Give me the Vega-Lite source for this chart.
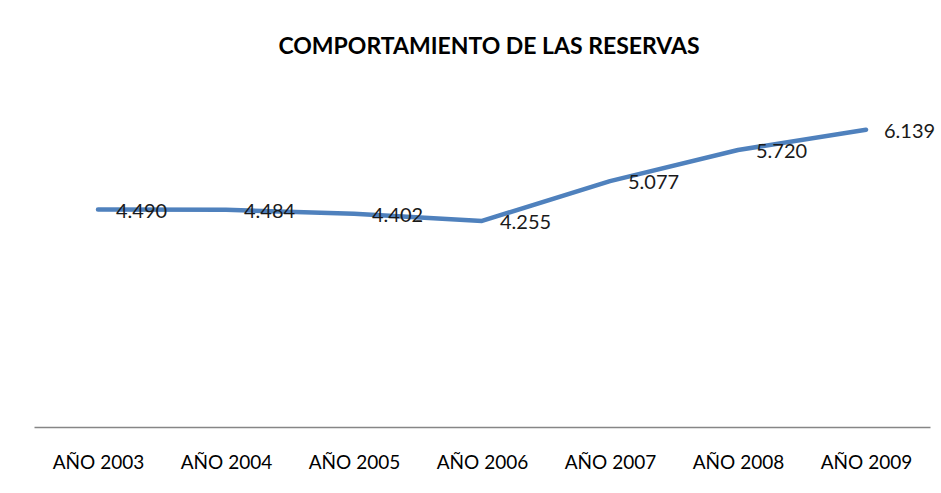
{
  "$schema": "https://vega.github.io/schema/vega-lite/v6.json",
  "autosize": "none",
  "width": 896,
  "height": 339,
  "padding": {"left": 34, "top": 88, "right": 11, "bottom": 66},
  "background": "white",
  "config": {
    "view": {"stroke": null},
    "locale": {"number": {"decimal": ",", "thousands": ".", "grouping": [3], "currency": ["", ""]}}
  },
  "title": {
    "text": "COMPORTAMIENTO DE LAS RESERVAS",
    "font": "Lato",
    "fontSize": 23,
    "fontWeight": "bold",
    "color": "#000000",
    "anchor": "middle",
    "baseline": "alphabetic",
    "offset": 11,
    "dx": 7
  },
  "data": {
    "values": [
      {"anio": "AÑO 2003", "reservas": 4490},
      {"anio": "AÑO 2004", "reservas": 4484},
      {"anio": "AÑO 2005", "reservas": 4402},
      {"anio": "AÑO 2006", "reservas": 4255},
      {"anio": "AÑO 2007", "reservas": 5077},
      {"anio": "AÑO 2008", "reservas": 5720},
      {"anio": "AÑO 2009", "reservas": 6139}
    ]
  },
  "encoding": {
    "x": {
      "field": "anio",
      "type": "ordinal",
      "sort": null,
      "scale": {"type": "point", "padding": 0.5},
      "axis": {
        "title": null,
        "labelAngle": 0,
        "labelFont": "Lato",
        "labelFontSize": 19,
        "labelColor": "#000000",
        "labelPadding": 26,
        "ticks": false,
        "domainColor": "#868686",
        "domainWidth": 1.5,
        "grid": false
      }
    },
    "y": {
      "field": "reservas",
      "type": "quantitative",
      "scale": {"domain": [0, 7000], "nice": false, "zero": true},
      "axis": null
    }
  },
  "layer": [
    {
      "mark": {"type": "line", "color": "#4F81BD", "strokeWidth": 4.5, "strokeCap": "round", "strokeJoin": "round"}
    },
    {
      "mark": {"type": "text", "align": "left", "baseline": "middle", "dx": 18, "dy": 2, "font": "Lato", "fontSize": 20, "color": "#1a1a1a"},
      "encoding": {
        "text": {"field": "reservas", "type": "quantitative", "format": ",.0f"}
      }
    }
  ]
}
